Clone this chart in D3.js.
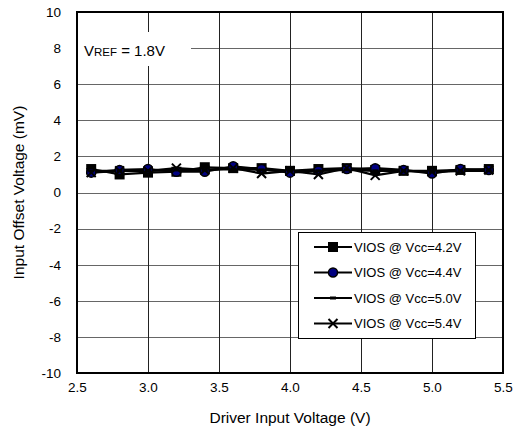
<!DOCTYPE html>
<html>
<head>
<meta charset="utf-8">
<script src="https://cdn.jsdelivr.net/npm/d3@7"></script>
<style>
  body { margin: 0; background: #fff; }
  text { font-family: "Liberation Sans", Arial, sans-serif; }
</style>
</head>
<body>
<script>
// driver input voltage (V)
var xValues = [2.6, 2.8, 3.0, 3.2, 3.4, 3.6, 3.8, 4.0, 4.2, 4.4, 4.6, 4.8, 5.0, 5.2, 5.4];

// input offset voltage (mV) per Vcc
var vios42 = [1.3, 1.0, 1.1, 1.15, 1.4, 1.35, 1.35, 1.2, 1.3, 1.35, 1.25, 1.2, 1.2, 1.25, 1.3];
var vios44 = [1.1, 1.25, 1.3, 1.15, 1.15, 1.45, 1.3, 1.1, 1.2, 1.3, 1.35, 1.25, 1.05, 1.3, 1.25];
var vios50 = [1.2, 1.2, 1.2, 1.25, 1.25, 1.3, 1.25, 1.2, 1.2, 1.25, 1.2, 1.2, 1.15, 1.2, 1.2];
var vios54 = [1.1, 1.2, 1.2, 1.35, 1.25, 1.35, 1.05, 1.2, 1.0, 1.35, 0.95, 1.2, 1.15, 1.2, 1.25];

var seriesNames = ["VIOS @ Vcc=4.2V", "VIOS @ Vcc=4.4V", "VIOS @ Vcc=5.0V", "VIOS @ Vcc=5.4V"];
var markerTypes = ["square", "circle", "dash", "cross"];

var xTicks = [2.5, 3.0, 3.5, 4.0, 4.5, 5.0, 5.5];
var yTicks = [-10, -8, -6, -4, -2, 0, 2, 4, 6, 8, 10];

var width = 525, height = 433;
var plotLeft = 77, plotRight = 503, plotTop = 12, plotBottom = 373;

var svg = d3.select("body").append("svg")
    .attr("width", width)
    .attr("height", height);

var x = d3.scaleLinear().domain([2.5, 5.5]).range([plotLeft, plotRight]);
var y = d3.scaleLinear().domain([-10, 10]).range([plotBottom, plotTop]);

// grid
svg.append("g").selectAll("line")
    .data(yTicks.slice(1, -1))
    .enter().append("line")
    .attr("x1", plotLeft).attr("x2", plotRight)
    .attr("y1", function(d) { return Math.round(y(d)) + 0.5; })
    .attr("y2", function(d) { return Math.round(y(d)) + 0.5; })
    .attr("stroke", "#666").attr("stroke-width", 1);

svg.append("g").selectAll("line")
    .data(xTicks.slice(1, -1))
    .enter().append("line")
    .attr("y1", plotTop).attr("y2", plotBottom)
    .attr("x1", function(d) { return Math.round(x(d)) + 0.5; })
    .attr("x2", function(d) { return Math.round(x(d)) + 0.5; })
    .attr("stroke", "#222").attr("stroke-width", 1);

// Vref label box
svg.append("rect")
    .attr("x", plotLeft + 1).attr("y", 32)
    .attr("width", 113).attr("height", 34)
    .attr("fill", "#fff");

var vref = svg.append("text")
    .attr("x", 84).attr("y", 56)
    .attr("font-size", 15)
    .attr("fill", "#000");
vref.append("tspan").text("V");
vref.append("tspan").attr("font-size", 11.5).text("REF");
vref.append("tspan").text(" = 1.8V");

// axes labels
var yAxis = d3.axisLeft(y).tickValues(yTicks).tickSize(0).tickPadding(16)
    .tickFormat(function(d) { return String(d); });
svg.append("g")
    .attr("transform", "translate(" + plotLeft + ",0)")
    .call(yAxis)
    .call(function(g) { g.select(".domain").remove(); })
    .selectAll("text")
    .attr("font-size", 13.5)
    .attr("font-family", "Liberation Sans, Arial, sans-serif")
    .attr("fill", "#000");

var xAxis = d3.axisBottom(x).tickValues(xTicks).tickSize(0).tickPadding(9)
    .tickFormat(d3.format(".1f"));
svg.append("g")
    .attr("transform", "translate(0," + plotBottom + ")")
    .call(xAxis)
    .call(function(g) { g.select(".domain").remove(); })
    .selectAll("text")
    .attr("font-size", 13.5)
    .attr("font-family", "Liberation Sans, Arial, sans-serif")
    .attr("fill", "#000");

svg.append("text")
    .attr("x", (plotLeft + plotRight) / 2).attr("y", 423)
    .attr("text-anchor", "middle")
    .attr("font-size", 15.5)
    .text("Driver Input Voltage (V)");

svg.append("text")
    .attr("transform", "translate(24," + ((plotTop + plotBottom) / 2) + ") rotate(-90)")
    .attr("text-anchor", "middle")
    .attr("font-size", 15.5)
    .text("Input Offset Voltage (mV)");

// markers
function drawMarker(g, type, cx, cy) {
    if (type == "square") {
        g.append("rect").attr("x", cx - 5).attr("y", cy - 5)
            .attr("width", 10).attr("height", 10).attr("fill", "#000");
    } else if (type == "circle") {
        g.append("circle").attr("cx", cx).attr("cy", cy).attr("r", 4.5)
            .attr("fill", "#000080").attr("stroke", "#000").attr("stroke-width", 1.5);
    } else if (type == "dash") {
        g.append("rect").attr("x", cx - 3).attr("y", cy - 1.5)
            .attr("width", 6).attr("height", 3).attr("fill", "#000");
    } else {
        g.append("path")
            .attr("d", "M" + (cx - 4.5) + "," + (cy - 4.5) + "L" + (cx + 4.5) + "," + (cy + 4.5) +
                       "M" + (cx - 4.5) + "," + (cy + 4.5) + "L" + (cx + 4.5) + "," + (cy - 4.5))
            .attr("stroke", "#000").attr("stroke-width", 2).attr("fill", "none");
    }
}

var allSeries = [vios42, vios44, vios50, vios54];
var line = d3.line()
    .x(function(d, i) { return x(xValues[i]); })
    .y(function(d) { return y(d); });

allSeries.forEach(function(vals, si) {
    svg.append("path")
        .datum(vals)
        .attr("d", line)
        .attr("fill", "none")
        .attr("stroke", "#000")
        .attr("stroke-width", 2.2);
});

allSeries.forEach(function(vals, si) {
    var g = svg.append("g");
    vals.forEach(function(v, i) {
        drawMarker(g, markerTypes[si], x(xValues[i]), y(v));
    });
});

// plot border
svg.append("rect")
    .attr("x", plotLeft).attr("y", plotTop)
    .attr("width", plotRight - plotLeft).attr("height", plotBottom - plotTop)
    .attr("fill", "none").attr("stroke", "#000").attr("stroke-width", 2);

// legend
var legend = svg.append("g");
legend.append("rect")
    .attr("x", 298.5).attr("y", 232.5)
    .attr("width", 177).attr("height", 106)
    .attr("fill", "#fff").attr("stroke", "#000").attr("stroke-width", 1);

seriesNames.forEach(function(name, i) {
    var ly = 247 + i * 25.5;
    legend.append("line")
        .attr("x1", 314).attr("x2", 352)
        .attr("y1", ly).attr("y2", ly)
        .attr("stroke", "#000").attr("stroke-width", 2);
    drawMarker(legend, markerTypes[i], 333, ly);
    legend.append("text")
        .attr("x", 354).attr("y", ly + 4.5)
        .attr("font-size", 13)
        .text(name);
});
</script>
</body>
</html>
